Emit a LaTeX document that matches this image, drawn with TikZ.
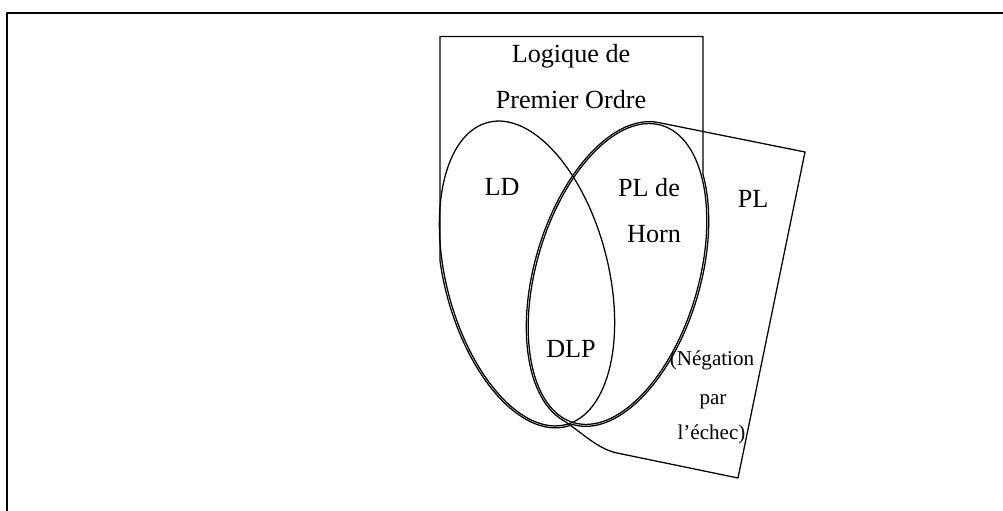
\documentclass[tikz,border=0pt]{standalone}
\usepackage{fontspec}
\setmainfont{Liberation Serif}
\begin{document}
\begin{tikzpicture}[line cap=round, line join=round, line width=0.9pt, font=\fontsize{18.6}{22}\selectfont, x=0.025cm, y=0.025cm]
	\tikzset{small text/.style={font=\fontsize{15}{18}\selectfont}, frame line/.style={line width=1.4pt}}
	\useasboundingbox (0,0) rectangle (1003,511);
	\draw[frame line] (6.7,0)--(6.7,498.3)--(1003,498.3);
	% LD and PL de Horn
	\draw[rotate around={14.5:(527,237.5)}] (527,237.5) ellipse [x radius=2.025cm, y radius=3.9cm];
	\draw[rotate around={-16.5:(617.5,237)}] (617.5,237) ellipse [x radius=2.025cm, y radius=3.875cm];
	% logique de premier ordre
	\draw[smooth] plot[domain=275:167.5, samples=60] ({527+83*cos(\x)*cos(14.5)-158*sin(\x)*sin(14.5)}, {237.5+83*cos(\x)*sin(14.5)+158*sin(\x)*cos(14.5)})
		--(440,474.5)--(703,474.5)
		--plot[domain=49.6:-90, samples=70] ({617.5+83*cos(\x)*cos(16.5)+157*sin(\x)*sin(16.5)}, {237-83*cos(\x)*sin(16.5)+157*sin(\x)*cos(16.5)});
	% PL
	\draw (805,359)--plot[domain=93:262, samples=80] ({617.5+83*cos(\x)*cos(16.5)+157*sin(\x)*sin(16.5)}, {237-83*cos(\x)*sin(16.5)+157*sin(\x)*cos(16.5)})
		.. controls (579,81) and (597,62) .. (617,58)--(738,33)--cycle;
	\node[anchor=base] (fol1) at (571,448.3) {Logique de};
	\node[anchor=base] (fol2) at (571,402) {Premier Ordre};
	\node[anchor=base] (ld) at (502,315) {LD};
	\node[anchor=base] (horn1) at (649,314) {PL de};
	\node[anchor=base] (horn2) at (654,268) {Horn};
	\node[anchor=base] (pl) at (753,303) {PL};
	\node[anchor=base] (dlp) at (571,153) {DLP};
	\node[anchor=base, small text] (neg1) at (712,145.3) {(Négation};
	\node[anchor=base, small text] (neg2) at (713,106) {par};
	\node[anchor=base, small text] (neg3) at (711.5,71) {l’échec)};
\end{tikzpicture}
\end{document}
